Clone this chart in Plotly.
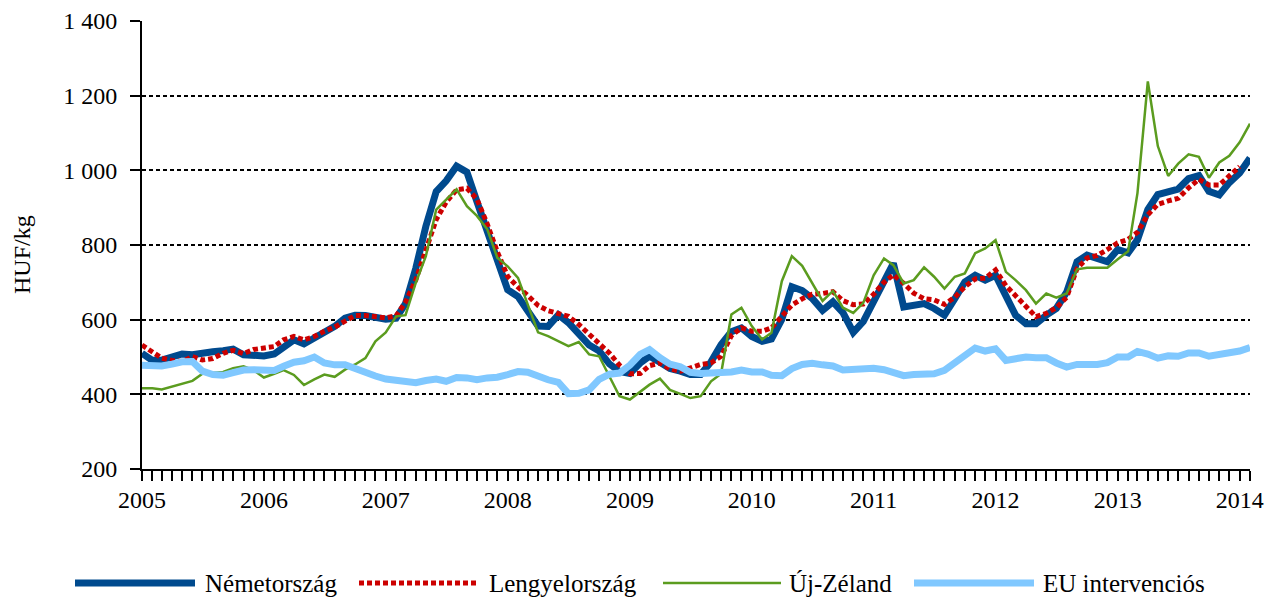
import plotly.graph_objects as go
import pandas as pd

# ---------------- data ----------------
months = pd.date_range("2005-01-01", periods=110, freq="MS")

nemetorszag = [510, 491, 492, 501, 508, 506, 512, 514, 517, 521, 506, 505,
               503, 508, 526, 546, 535, 551, 566, 582, 604, 612, 611, 607,
               601, 604, 643, 738, 850, 943, 972, 1011, 995, 916, 837, 757,
               680, 662, 620, 583, 582, 613, 592, 561, 532, 516, 481, 461,
               456, 484, 502, 486, 469, 462, 453, 453, 487, 533, 568, 578,
               555, 542, 548, 601, 688, 678, 657, 625, 648, 619, 566, 595,
               648, 710, 751, 634, 639, 643, 630, 612, 656, 701, 719, 706,
               719, 661, 612, 589, 589, 612, 630, 674, 755, 773, 764, 755,
               788, 779, 814, 895, 935, 941, 950, 978, 986, 944, 934, 967,
               993, 1033]

lengyelorszag = [532, 515, 497, 491, 488, 501, 492, 496, 510, 518, 509, 520,
                 524, 528, 546, 555, 546, 555, 569, 580, 596, 611, 611, 607,
                 605, 610, 647, 707, 783, 868, 915, 948, 952, 923, 856, 782,
                 716, 687, 665, 638, 624, 618, 609, 587, 560, 537, 510, 478,
                 455, 456, 477, 484, 468, 462, 470, 480, 484, 502, 557, 578,
                 569, 569, 578, 609, 639, 656, 668, 670, 675, 651, 640, 642,
                 668, 700, 720, 697, 671, 656, 653, 641, 660, 688, 709, 711,
                 733, 691, 664, 633, 608, 617, 632, 660, 737, 765, 772, 788,
                 806, 815, 834, 881, 909, 918, 925, 953, 976, 961, 961, 985,
                 1010, None]

uj_zeland = [416, 416, 413, 421, 428, 436, 455, 457, 460, 470, 475, 465,
             445, 455, 465, 452, 425, 440, 453, 447, 466, 480, 497, 542,
             566, 609, 612, 699, 770, 895, 922, 949, 904, 878, 842, 766,
             743, 712, 641, 566, 556, 542, 529, 540, 507, 502, 448, 395,
             386, 408, 426, 442, 412, 401, 390, 395, 435, 455, 614, 632,
             583, 547, 565, 703, 770, 744, 699, 650, 677, 632, 618, 645,
             719, 764, 746, 697, 706, 740, 715, 683, 715, 724, 778, 791,
             813, 728, 706, 679, 643, 670, 659, 670, 735, 739, 739, 739,
             762, 783, 939, 1238, 1065, 985, 1018, 1043, 1036, 980, 1021, 1039,
             1075, 1125]

eu_intervencios = [478, 476, 476, 481, 487, 488, 462, 453, 451, 458, 465, 466,
                   465, 464, 475, 486, 490, 500, 484, 479, 479, 468, 457, 449,
                   441, 439, 436, 431, 437, 441, 435, 445, 444, 439, 444, 446,
                   453, 461, 459, 447, 439, 432, 402, 403, 412, 440, 454, 457,
                   478, 507, 520, 498, 481, 474, 459, 456, 456, 460, 460, 465,
                   460, 460, 451, 450, 469, 480, 483, 479, 476, 465, 466, 470,
                   470, 466, 459, 450, 453, 453, 455, 464, 485, 504, 524, 516,
                   522, 491, 495, 500, 498, 498, 484, 473, 480, 480, 480, 485,
                   500, 500, 515, 508, 497, 503, 502, 511, 511, 502, 506, 511,
                   516, 525]

series_names = ["Németország", "Lengyelország", "Új-Zéland", "EU intervenciós"]
y_tick_vals = [200, 400, 600, 800, 1000, 1200, 1400]
y_tick_text = ["200", "400", "600", "800", "1 000", "1 200", "1 400"]
y_title = "HUF/kg"

# ---------------- styles ----------------
styles = [
    dict(color="#004A8E", width=7, dash="solid"),
    dict(color="#CC0000", width=5, dash="5px,3px"),
    dict(color="#5B9C1F", width=2.5, dash="solid"),
    dict(color="#80C8FF", width=7, dash="solid"),
]
all_series = [nemetorszag, lengyelorszag, uj_zeland, eu_intervencios]

FONT = "Liberation Serif"
OFF = 8                      # page body margin of the html page
W, H = 1281 - OFF, 603 - OFF
L, R, T, B = 142 - OFF, 31, 21 - OFF, 134
PW, PH = W - L - R, H - T - B

fig = go.Figure()
for name, vals, st in zip(series_names, all_series, styles):
    fig.add_trace(go.Scatter(x=months, y=vals, mode="lines", name=name,
                             line=dict(color=st["color"], width=st["width"], dash=st["dash"]),
                             connectgaps=False, showlegend=False))

fig.update_layout(
    width=W, height=H,
    margin=dict(l=L, r=R, t=T, b=B, pad=0, autoexpand=False),
    plot_bgcolor="white", paper_bgcolor="white",
    font=dict(family=FONT, size=24, color="black"),
    showlegend=False,
)

fig.update_xaxes(
    type="date", range=[months[0], months[-1]],
    tick0="2005-01-01", dtick="M12", tickformat="%Y",
    ticks="outside", ticklen=10, tickwidth=1.5, tickcolor="black",
    showline=True, linecolor="black", linewidth=2,
    showgrid=False, zeroline=False,
    ticklabelstandoff=-2,
    minor=dict(tick0="2005-01-01", dtick="M1", ticks="outside", ticklen=10,
               tickwidth=1.5, tickcolor="black", showgrid=False),
)
fig.update_yaxes(
    range=[200, 1400], tickmode="array", tickvals=y_tick_vals, ticktext=y_tick_text,
    ticks="outside", ticklen=10, tickwidth=2, tickcolor="black",
    showline=True, linecolor="black", linewidth=2,
    showgrid=True, gridcolor="black", gridwidth=1.5, griddash="4px,3px",
    zeroline=False, ticklabelstandoff=8,
)

def px_x(px):
    # page pixel -> paper coordinate
    return (px - OFF - L) / PW

def px_y(py):
    return (H - B - (py - OFF)) / PH

fig.add_annotation(text=y_title, textangle=-90, xref="paper", yref="paper",
                   x=px_x(22), y=px_y(255), xanchor="center", yanchor="middle",
                   showarrow=False, font=dict(family=FONT, size=24, color="black"))

# legend (drawn below the plot)
leg_y = 583
leg_lines = [(75, 195), (359, 479), (663, 781), (914, 1034)]
leg_text_x = [203, 487, 787, 1041]
for name, st, (x0, x1), tx in zip(series_names, styles, leg_lines, leg_text_x):
    fig.add_shape(type="line", xref="paper", yref="paper",
                  x0=px_x(x0), x1=px_x(x1), y0=px_y(leg_y), y1=px_y(leg_y),
                  line=dict(color=st["color"], width=st["width"], dash=st["dash"]))
    fig.add_annotation(text=name, xref="paper", yref="paper", x=px_x(tx), y=px_y(leg_y),
                       xanchor="left", yanchor="middle", showarrow=False,
                       font=dict(family=FONT, size=25, color="black"))

fig.write_html("out.html")
